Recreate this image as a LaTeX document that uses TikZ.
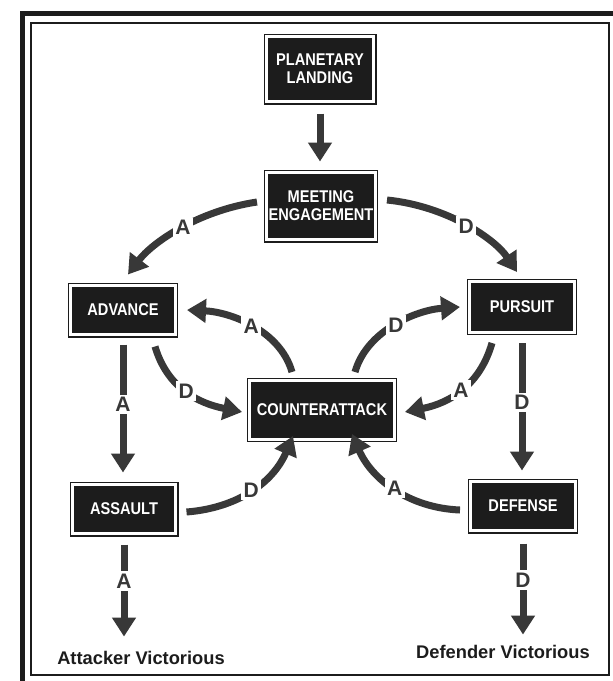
\documentclass[tikz,border=0pt]{standalone}
\usepackage{fontspec}
\setmainfont{Liberation Sans}
\newfontfamily\boxfont[FakeStretch=0.86]{Liberation Sans}
\usetikzlibrary{arrows.meta}
\definecolor{ink}{HTML}{1C1C1C}
\definecolor{arr}{HTML}{383838}
\begin{document}
\begin{tikzpicture}[x=1pt,y=-1pt,
  box/.style={draw=ink, double=white, double distance=3pt, line width=1.2pt, fill=ink, text=white,
    font=\boxfont\bfseries\fontsize{17}{18}\selectfont, align=center, inner sep=0pt, outer sep=2.7pt},
  flow/.style={draw=arr, line width=7pt, -{Triangle[length=19pt,width=23pt]}},
  lab/.style={fill=white, text=arr, font=\bfseries\fontsize{21}{21}\selectfont, inner sep=2.5pt},
  res/.style={text=ink, font=\bfseries\fontsize{18.3}{19}\selectfont, inner sep=0pt, anchor=base}]
\useasboundingbox (0,0) rectangle (613,681);
\fill[white] (0,0) rectangle (613,681);
\draw[ink, line width=5pt] (22,690) -- (22,13) -- (620,13);
\draw[ink, line width=1.8pt] (31,23) rectangle (609,675);

\node[box, minimum width=107.6pt, minimum height=65.6pt] (land) at (320,69) {PLANETARY\\LANDING};
\node[box, minimum width=108.6pt, minimum height=67.6pt] (meet) at (321,206) {MEETING\\ENGAGEMENT};
\node[box, minimum width=104.6pt, minimum height=49.6pt] (adv) at (123,310) {ADVANCE};
\node[box, minimum width=104.6pt, minimum height=50.6pt] (pur) at (522,307) {PURSUIT};
\node[box, minimum width=144.6pt, minimum height=58.6pt] (ca) at (322,410) {COUNTERATTACK};
\node[box, minimum width=103.6pt, minimum height=49.6pt] (ass) at (124,509) {ASSAULT};
\node[box, minimum width=104.6pt, minimum height=49.6pt] (def) at (523,506) {DEFENSE};
\node[res] (attv) at (141,664) {Attacker Victorious};
\node[res] (defv) at (503,658) {Defender Victorious};

\draw[flow, shorten <=9pt, shorten >=8pt] (land.south) -- (land.south |- meet.north);
\draw[flow] ([xshift=-7pt,yshift=4pt]meet.west) .. controls (197,211) and (152,243) .. ([xshift=5pt,yshift=8pt]adv.north) node[lab,pos=0.47]{A};
\draw[flow] ([xshift=9pt,yshift=6pt]meet.east) .. controls (447,206) and (495,239) .. ([xshift=-5pt,yshift=7pt]pur.north) node[lab,pos=0.5]{D};
\draw[flow] ([xshift=-30pt,yshift=6pt]ca.north) .. controls (280,330) and (230,312) .. ([xshift=9pt]adv.east) node[lab,pos=0.5]{A};
\draw[flow] ([xshift=33pt,yshift=6pt]ca.north) .. controls (367,330) and (417,310) .. ([xshift=-7pt]pur.west) node[lab,pos=0.5]{D};
\draw[flow] ([xshift=32pt,yshift=-9pt]adv.south) .. controls (167,387) and (197,403) .. ([xshift=-5pt,yshift=-2pt]ca.west) node[lab,pos=0.5]{D};
\draw[flow] ([xshift=-30pt,yshift=-8pt]pur.south) .. controls (480,385) and (450,403) .. ([xshift=8pt,yshift=-2pt]ca.east) node[lab,pos=0.5]{A};
\draw[flow] ([xshift=8pt,yshift=-3pt]ass.east) .. controls (237,508) and (273,483) .. ([xshift=-29pt,yshift=6pt]ca.south) node[lab,pos=0.5]{D};
\draw[flow] ([xshift=-8pt,yshift=-4pt]def.west) .. controls (410,508) and (372,480) .. ([xshift=30pt,yshift=8pt]ca.south) node[lab,pos=0.5]{A};
\draw[flow, shorten <=7pt, shorten >=9pt] (adv.south) -- (adv.south |- ass.north) node[lab,pos=0.465]{A};
\draw[flow, shorten <=8pt, shorten >=8pt] (pur.south) -- (pur.south |- def.north) node[lab,pos=0.47]{D};
\draw[flow, shorten <=8pt, shorten >=14pt] (ass.south) -- (ass.south |- attv.north) node[lab,pos=0.39]{A};
\draw[flow, shorten <=10pt, shorten >=10pt] (def.south) -- (def.south |- defv.north) node[lab,pos=0.42]{D};
\end{tikzpicture}
\end{document}
